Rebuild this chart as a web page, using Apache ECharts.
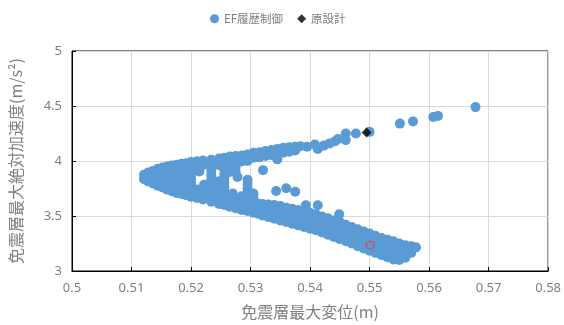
<!DOCTYPE html>
<html><head><meta charset="utf-8">
<script src="https://cdn.jsdelivr.net/npm/echarts@6/dist/echarts.min.js"></script>
<style>html,body{margin:0;padding:0;background:#fff}#c{width:564px;height:325px}</style>
</head><body><div id="c"></div>
<script>
// ---- data ----
const seriesNames = ['EF履歴制御', '原設計'];
const xTicks = [0.5, 0.51, 0.52, 0.53, 0.54, 0.55, 0.56, 0.57, 0.58];
const yTicks = [3, 3.5, 4, 4.5, 5];

const efTip = [
[0.5121,3.835],[0.5121,3.875],
[0.5128,3.815],[0.5128,3.855],[0.5128,3.895],
[0.5136,3.795],[0.5136,3.835],[0.5136,3.875],[0.5136,3.91],
[0.5144,3.775],[0.5144,3.815],[0.5144,3.855],[0.5144,3.895],[0.5144,3.93],
[0.5152,3.76],[0.5152,3.80],[0.5152,3.84],[0.5152,3.88],[0.5152,3.92],[0.5152,3.94],
[0.516,3.74],[0.516,3.78],[0.516,3.82],[0.516,3.86],[0.516,3.90],[0.516,3.95],
[0.5168,3.725],[0.5168,3.765],[0.5168,3.805],[0.5168,3.845],[0.5168,3.885],[0.5168,3.925],[0.5168,3.96],
[0.5176,3.71],[0.5176,3.75],[0.5176,3.79],[0.5176,3.83],[0.5176,3.87],[0.5176,3.91],[0.5176,3.965],
[0.5184,3.70],[0.5184,3.74],[0.5184,3.78],[0.5184,3.82],[0.5184,3.86],[0.5184,3.90],[0.5184,3.94],[0.5184,3.975],
[0.5192,3.69],[0.5192,3.73],[0.5192,3.77],[0.5192,3.81],[0.5192,3.85],[0.5192,3.89],[0.5192,3.93],[0.5192,3.98],
[0.520,3.675],[0.520,3.715],[0.520,3.755],[0.520,3.795],[0.520,3.835],[0.520,3.875],[0.520,3.915],[0.520,3.955],[0.520,3.99]
];
const efMid = [
[0.521,3.665],[0.521,3.705],[0.521,3.74],[0.521,3.96],[0.521,3.998],
[0.5214,3.905],[0.5222,3.785],
[0.522,3.65],[0.522,3.69],[0.522,3.73],[0.522,3.962],[0.522,4.005],
[0.5234,3.63],[0.5234,3.67],[0.5234,3.71],[0.5234,3.75],[0.5234,3.79],[0.5234,3.83],[0.5234,3.87],[0.5234,3.91],[0.5234,3.95],[0.5234,4.012],
[0.5247,3.61],[0.5247,3.65],[0.5247,3.69],[0.5247,3.73],[0.5247,3.77],[0.5247,3.815],[0.5247,3.962],[0.5247,4.022],
[0.5256,3.60],[0.5256,3.64],[0.5256,3.68],[0.5256,3.72],[0.5256,3.76],[0.5256,3.80],[0.5256,3.84],[0.5256,3.88],[0.5256,3.92],[0.5256,3.96],[0.5256,4.00],[0.5256,4.03],
[0.5265,3.585],[0.5265,3.625],[0.5265,3.665],[0.5265,3.90],[0.5265,3.945],[0.5265,3.99],[0.5265,4.04],
[0.5270,3.705],[0.5278,3.855],
[0.5275,3.57],[0.5275,3.61],[0.5275,3.655],[0.5275,3.90],[0.5275,3.945],[0.5275,3.99],[0.5275,4.045],
[0.5285,3.555],[0.5285,3.595],[0.5285,3.64],[0.5285,3.68],[0.5285,3.995],[0.5285,4.05],
[0.5295,3.545],[0.5295,3.585],[0.5295,3.625],[0.5295,3.67],[0.5295,3.71],[0.5295,3.75],[0.5295,3.79],[0.5295,3.83],[0.5295,4.0],[0.5295,4.06]
];
const efUpper = [
[0.5305,4.03],[0.5305,4.075],
[0.5315,4.035],[0.5315,4.08],
[0.5325,4.045],[0.5325,4.09],
[0.5335,4.055],[0.5335,4.10],
[0.5345,4.065],[0.5345,4.11],
[0.5355,4.075],[0.5355,4.12],
[0.5365,4.085],[0.5365,4.125],
[0.5375,4.095],[0.5375,4.13],
[0.5384,4.134]
];
const efLower = [
[0.5305,3.53],[0.5305,3.575],[0.5305,3.62],[0.5305,3.665],[0.5305,3.705],
[0.5313,3.52],[0.5313,3.565],[0.5313,3.612],
[0.532,3.505],[0.532,3.55],[0.532,3.61],
[0.533,3.49],[0.533,3.535],[0.533,3.58],[0.533,3.605],
[0.534,3.475],[0.534,3.52],[0.534,3.565],[0.534,3.60],
[0.535,3.46],[0.535,3.505],[0.535,3.55],[0.535,3.59],
[0.536,3.445],[0.536,3.49],[0.536,3.535],[0.536,3.575],
[0.537,3.43],[0.537,3.475],[0.537,3.52],[0.537,3.565],
[0.538,3.415],[0.538,3.46],[0.538,3.505],[0.538,3.555],
[0.539,3.40],[0.539,3.445],[0.539,3.49],[0.539,3.545],
[0.540,3.385],[0.540,3.43],[0.540,3.475],[0.540,3.53],
[0.541,3.37],[0.541,3.415],[0.541,3.46],[0.541,3.515],
[0.542,3.35],[0.542,3.395],[0.542,3.44],[0.542,3.495],
[0.543,3.33],[0.543,3.375],[0.543,3.42],[0.543,3.48],
[0.544,3.31],[0.544,3.355],[0.544,3.40],[0.544,3.46],
[0.545,3.29],[0.545,3.335],[0.545,3.38],[0.545,3.445],
[0.546,3.27],[0.546,3.315],[0.546,3.36],[0.546,3.42],
[0.547,3.25],[0.547,3.295],[0.547,3.34],[0.547,3.40],
[0.548,3.225],[0.548,3.27],[0.548,3.315],[0.548,3.38],
[0.549,3.205],[0.549,3.25],[0.549,3.295],[0.549,3.36],
[0.550,3.185],[0.550,3.23],[0.550,3.275],[0.550,3.34],
[0.551,3.165],[0.551,3.21],[0.551,3.255],[0.551,3.32],
[0.552,3.145],[0.552,3.19],[0.552,3.235],[0.552,3.30],
[0.553,3.125],[0.553,3.17],[0.553,3.215],[0.553,3.285],
[0.554,3.105],[0.554,3.15],[0.554,3.195],[0.554,3.24],[0.554,3.27],
[0.555,3.10],[0.555,3.145],[0.555,3.235],[0.555,3.25],
[0.556,3.12],[0.556,3.16],[0.556,3.20],[0.556,3.235],
[0.557,3.165],[0.557,3.21],[0.557,3.225],
[0.5578,3.215]
];
const efSparse = [
[0.5321,3.917],[0.5345,4.015],[0.5343,3.727],[0.536,3.752],[0.5375,3.72],
[0.5393,3.597],[0.5413,3.597],[0.5449,3.516],
[0.5395,4.13],[0.5408,4.15],[0.5413,4.11],[0.5423,4.14],[0.5433,4.16],[0.5442,4.18],[0.5447,4.2],
[0.546,4.19],[0.546,4.25],[0.5477,4.25],[0.55,4.265],
[0.5551,4.34],[0.5573,4.36],[0.5607,4.40],[0.5615,4.41],[0.5678,4.49]
];
const originalDesign = [[0.5495,4.258]];
const highlighted = [[0.5501,3.235]];

// ---- chart ----
const efAll = [].concat(efTip, efMid, efUpper, efLower, efSparse);
const textGray = '#808080';
const chart = echarts.init(document.getElementById('c'), null, {renderer: 'canvas'});
chart.setOption({
  animation: false,
  backgroundColor: '#fff',
  legend: {
    data: [{name: seriesNames[0], icon: 'circle'}, {name: seriesNames[1], icon: 'diamond'}],
    left: 205, top: 8, itemWidth: 9, itemHeight: 9, itemGap: 14,
    textStyle: {color: textGray, fontSize: 11.5, fontFamily: 'Noto Sans CJK JP'}
  },
  grid: {left: 72, right: 12, top: 51, bottom: 53, show: true, borderColor: '#000', borderWidth: 1},
  xAxis: {
    type: 'value', min: xTicks[0], max: xTicks[xTicks.length - 1], interval: 0.01,
    name: '免震層最大変位(m)', nameLocation: 'middle', nameGap: 33,
    nameTextStyle: {color: textGray, fontSize: 16, fontFamily: 'Noto Sans CJK JP'},
    axisLine: {lineStyle: {color: '#000', width: 1}},
    axisTick: {show: true, inside: true, length: 4, lineStyle: {color: '#000'}},
    axisLabel: {color: textGray, fontSize: 13, fontFamily: 'Noto Sans', margin: 11},
    splitLine: {show: true, lineStyle: {color: '#d9d9d9', width: 1}}
  },
  yAxis: {
    type: 'value', min: yTicks[0], max: yTicks[yTicks.length - 1], interval: 0.5,
    name: '免震層最大絶対加速度(m/s²)', nameLocation: 'middle', nameGap: 48, nameRotate: 90,
    nameTextStyle: {color: textGray, fontSize: 16, fontFamily: 'Noto Sans CJK JP'},
    axisLine: {show: true, lineStyle: {color: '#000', width: 1}},
    axisTick: {show: true, inside: true, length: 4, lineStyle: {color: '#000'}},
    axisLabel: {color: textGray, fontSize: 13, fontFamily: 'Noto Sans', margin: 10},
    splitLine: {show: true, lineStyle: {color: '#d9d9d9', width: 1}}
  },
  series: [
    {name: seriesNames[0], type: 'scatter', data: efAll, symbol: 'circle', symbolSize: 10,
     itemStyle: {color: '#5b9bd5', opacity: 1}, z: 2},
    {name: seriesNames[1], type: 'scatter', data: originalDesign, symbol: 'diamond', symbolSize: 10,
     itemStyle: {color: '#000'}, z: 3},
    {name: 'marked', type: 'scatter', data: highlighted, symbol: 'circle', symbolSize: 8,
     itemStyle: {color: 'rgba(0,0,0,0)', borderColor: '#e0405a', borderWidth: 1.5}, z: 4}
  ]
});
</script></body></html>
